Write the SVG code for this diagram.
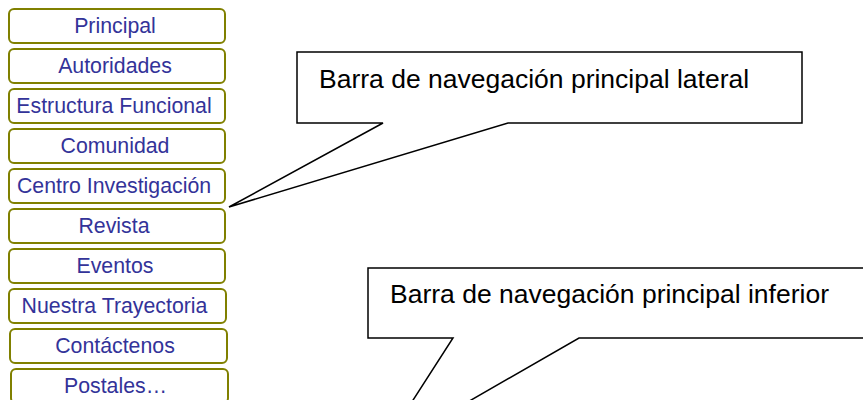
<svg xmlns="http://www.w3.org/2000/svg" width="863" height="400" viewBox="0 0 863 400">
<style>
.nav rect{fill:#fff;stroke:#808000;stroke-width:2}
.nav text{font-family:"Liberation Sans",Arial,sans-serif;font-size:21.3px;fill:#333399;text-anchor:middle}
.callout{fill:#fff;stroke:#000;stroke-width:1.5;stroke-linejoin:miter}
.ctext{font-family:"Liberation Sans",Arial,sans-serif;font-size:26.5px;fill:#000}
</style>
<rect width="863" height="400" fill="#fff"/>
<g class="nav">
<g id="n1"><rect x="9" y="9" width="216" height="34" rx="5"/><text x="115" y="32.5">Principal</text></g>
<g id="n2"><rect x="9" y="49" width="216" height="34" rx="5"/><text x="115" y="72.5">Autoridades</text></g>
<g id="n3"><rect x="9" y="89" width="216" height="34" rx="5"/><text x="114" y="112.5">Estructura Funcional</text></g>
<g id="n4"><rect x="9" y="129" width="216" height="34" rx="5"/><text x="115" y="152.5">Comunidad</text></g>
<g id="n5"><rect x="9" y="169" width="216" height="34" rx="5"/><text x="114" y="192.5">Centro Investigación</text></g>
<g id="n6"><rect x="9" y="209" width="216" height="34" rx="5"/><text x="114" y="232.5">Revista</text></g>
<g id="n7"><rect x="9" y="249" width="216" height="34" rx="5"/><text x="115" y="272.5">Eventos</text></g>
<g id="n8"><rect x="9" y="289" width="217" height="34" rx="5"/><text x="114.5" y="312.5">Nuestra Trayectoria</text></g>
<g id="n9"><rect x="10" y="329" width="217" height="34" rx="5"/><text x="115" y="352.5">Contáctenos</text></g>
<g id="n10"><rect x="11" y="369" width="217" height="34" rx="5"/><text x="115.5" y="392.5">Postales…</text></g>
</g>
<g id="callout-lateral">
<path class="callout" d="M297 52 H802 V123 H508 L229 207 L383 123 H297 Z"/>
<text class="ctext" x="319" y="88">Barra de navegación principal lateral</text>
</g>
<g id="callout-inferior">
<path class="callout" d="M368 268 H880 V338 H579 L379 453 L453 338 H368 Z"/>
<text class="ctext" x="390" y="303">Barra de navegación principal inferior</text>
</g>
</svg>
